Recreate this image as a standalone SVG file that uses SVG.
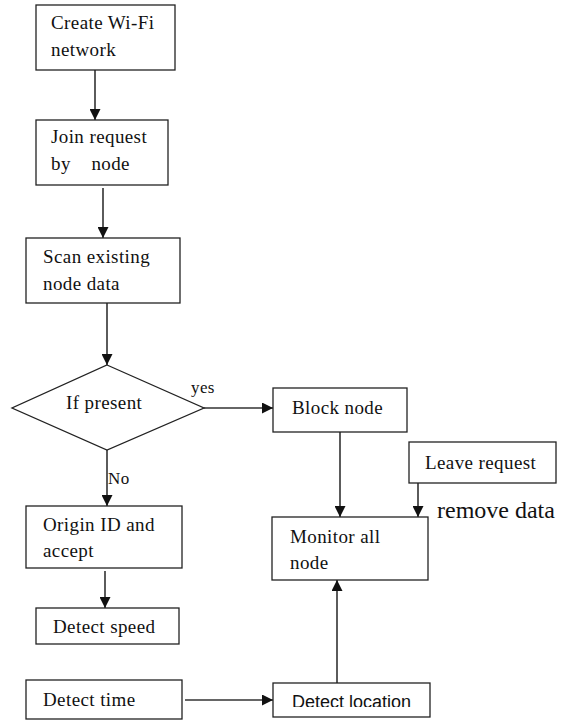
<svg xmlns="http://www.w3.org/2000/svg" width="562" height="720" viewBox="0 0 562 720">
  <style>
    .box { fill: #fff; stroke: #222; stroke-width: 1.3; }
    .lbl { font-family: "Liberation Serif", "Times New Roman", serif; font-size: 19px; letter-spacing: 0.4px; fill: #111; }
    .edge { fill: none; stroke: #333; stroke-width: 1.6; marker-end: url(#arrow); }
  </style>
  <defs>
    <marker id="arrow" viewBox="0 0 10 10" refX="10" refY="5" markerWidth="11" markerHeight="11" markerUnits="userSpaceOnUse" orient="auto">
      <path d="M0,0 L10,5 L0,10 Z" fill="#111"/>
    </marker>
    <clipPath id="lowerClip">
      <rect x="0" y="0" width="562" height="707"/>
    </clipPath>
  </defs>
  <rect width="562" height="720" fill="#fff"/>

  <g id="connectors">
    <line class="edge" x1="95" y1="70" x2="95" y2="120"/>
    <line class="edge" x1="103" y1="188" x2="103" y2="238"/>
    <line class="edge" x1="107" y1="303" x2="107" y2="365"/>
    <line class="edge" x1="204" y1="408" x2="273" y2="408"/>
    <line class="edge" x1="107" y1="450" x2="107" y2="506"/>
    <line class="edge" x1="340" y1="432" x2="340" y2="517"/>
    <line class="edge" x1="418" y1="483" x2="418" y2="517"/>
    <line class="edge" x1="105" y1="571" x2="105" y2="608"/>
    <line class="edge" x1="185" y1="700" x2="273" y2="700"/>
    <line class="edge" x1="337" y1="683" x2="337" y2="580"/>
    <text class="lbl" x="191" y="393" style="font-size:17px">yes</text>
    <text class="lbl" x="108" y="484" style="font-size:17px">No</text>
    <text x="437" y="518" style="font-family: 'Liberation Serif', serif; font-size: 24px; fill: #111;">remove data</text>
  </g>

  <g id="create-wifi">
    <rect class="box" x="36" y="5" width="139" height="65"/>
    <text class="lbl" x="51" y="29">Create Wi-Fi</text>
    <text class="lbl" x="51" y="56">network</text>
  </g>

  <g id="join-request">
    <rect class="box" x="36" y="120" width="132" height="65"/>
    <text class="lbl" x="51" y="143">Join request</text>
    <text class="lbl" x="51" y="170" xml:space="preserve">by    node</text>
  </g>

  <g id="scan-existing">
    <rect class="box" x="26" y="238" width="154" height="65"/>
    <text class="lbl" x="43" y="263">Scan existing</text>
    <text class="lbl" x="43" y="290">node data</text>
  </g>

  <g id="if-present">
    <polygon class="box" points="107,365 204,408 107,450 12,408"/>
    <text class="lbl" x="66" y="409">If present</text>
  </g>

  <g id="block-node">
    <rect class="box" x="273" y="388" width="134" height="44"/>
    <text class="lbl" x="292" y="414">Block node</text>
  </g>

  <g id="leave-request">
    <rect class="box" x="409" y="442" width="147" height="41"/>
    <text class="lbl" x="425" y="469">Leave request</text>
  </g>

  <g id="monitor-all">
    <rect class="box" x="272" y="517" width="156" height="63"/>
    <text class="lbl" x="290" y="543">Monitor all</text>
    <text class="lbl" x="290" y="569">node</text>
  </g>

  <g id="origin-id">
    <rect class="box" x="26" y="506" width="156" height="62"/>
    <text class="lbl" x="43" y="531">Origin ID and</text>
    <text class="lbl" x="43" y="557">accept</text>
  </g>

  <g id="detect-speed">
    <rect class="box" x="36" y="608" width="143" height="36"/>
    <text class="lbl" x="53" y="633">Detect speed</text>
  </g>

  <g id="detect-time">
    <rect class="box" x="26" y="680" width="156" height="39"/>
    <text class="lbl" x="43" y="706">Detect time</text>
  </g>

  <g id="detect-location">
    <rect class="box" x="273" y="683" width="157" height="34"/>
    <text clip-path="url(#lowerClip)" x="292" y="708" style="font-family: 'Liberation Sans', Arial, sans-serif; font-size: 18px; fill: #111;">Detect location</text>
  </g>
</svg>
